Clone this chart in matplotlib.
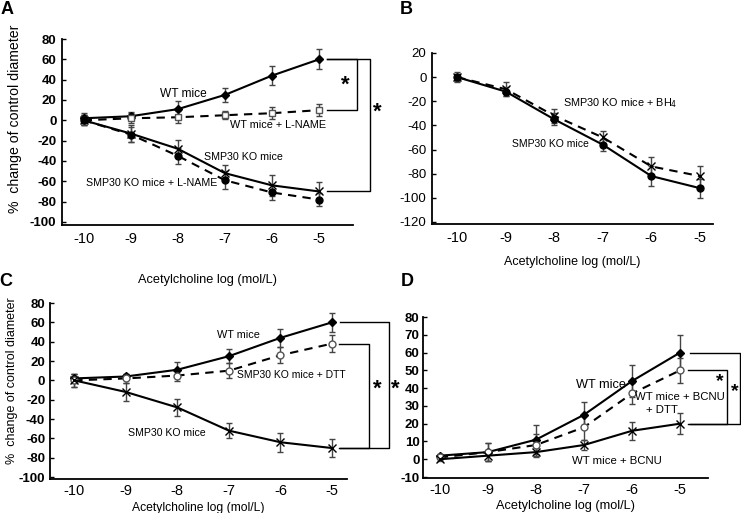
import matplotlib
matplotlib.use("Agg")
import matplotlib.pyplot as plt
import matplotlib.transforms as mtransforms
from matplotlib import font_manager
import numpy as np

plt.rcParams['font.family'] = ['Liberation Sans', 'DejaVu Sans']

_names = {f.name for f in font_manager.fontManager.ttflist}
NARROW = ['Liberation Sans Narrow', 'Liberation Sans'] if 'Liberation Sans Narrow' in _names else ['Liberation Sans']

# ---------------- data ----------------
x_log = [-10, -9, -8, -7, -6, -5]

# Panel A
a_wt = [2, 4, 11, 25, 44, 60]
a_wt_err = [5, 4, 8, 7, 9, 10]
a_wt_lname = [0, 2, 3, 5, 7, 10]
a_wt_lname_err = [5, 5, 6, 4, 6, 6]
a_ko = [0, -13, -28, -52, -64, -70]
a_ko_err = [5, 8, 9, 8, 10, 9]
a_ko_lname = [0, -14, -35, -59, -71, -78]
a_ko_lname_err = [5, 7, 8, 9, 7, 6]

# Panel B
b_ko = [0, -12, -35, -56, -82, -92]
b_ko_err = [3, 4, 5, 5, 8, 8]
b_ko_bh4 = [0, -10, -32, -50, -74, -82]
b_ko_bh4_err = [4, 6, 6, 5, 8, 8]

# Panel C
c_wt = [2, 4, 11, 25, 44, 60]
c_wt_err = [5, 3, 8, 7, 9, 10]
c_ko_dtt = [0, 2, 5, 10, 26, 38]
c_ko_dtt_err = [7, 5, 6, 8, 8, 9]
c_ko = [0, -12, -28, -52, -64, -70]
c_ko_err = [7, 9, 9, 8, 10, 9]

# Panel D
d_wt = [2, 4, 11, 25, 44, 60]
d_wt_err = [1, 5, 8, 7, 9, 10]
d_bcnu_dtt = [1, 4, 8, 18, 37, 50]
d_bcnu_dtt_err = [1, 5, 6, 7, 6, 7]
d_bcnu = [0, 2, 4, 8, 16, 20]
d_bcnu_err = [1, 3, 3, 3, 5, 6]

a_yticks = list(range(-100, 81, 20))
b_yticks = list(range(-120, 21, 20))
c_yticks = list(range(-100, 81, 20))
d_yticks = list(range(-10, 81, 10))

# ---------------- layout helpers ----------------
W, H = 741, 513
fig = plt.figure(figsize=(W / 100, H / 100), dpi=100)


def fx(px):
    return px / W


def fy(py):
    return 1 - py / H


def make_ax(left, right, top, bottom, xlim, ylim, yticks, ybold, xpad, ypad):
    ax = fig.add_axes([fx(left), fy(bottom), fx(right) - fx(left), (bottom - top) / H])
    ax.set_xlim(*xlim)
    ax.set_ylim(*ylim)
    for s in ['top', 'right']:
        ax.spines[s].set_visible(False)
    for s in ['left', 'bottom']:
        ax.spines[s].set_linewidth(1.3)
    ax.set_xticks(x_log)
    ax.set_xticklabels([str(v) for v in x_log], fontsize=10.5)
    ax.set_yticks(yticks)
    if ybold:
        ax.set_yticklabels([str(v) for v in yticks], fontsize=9.5,
                           fontweight='bold', family=NARROW)
    else:
        ax.set_yticklabels([str(v) for v in yticks], fontsize=9.5)
    ax.tick_params(axis='x', length=0, pad=xpad)
    ax.tick_params(axis='y', direction='in', length=3, width=1, pad=ypad)
    ax.patch.set_alpha(0)
    return ax


DASH = (0, (4, 3))


def series(ax, y, err, ls, marker, mfc, ms=4.5, mec='black'):
    ax.errorbar(x_log, y, yerr=err, color='black', ecolor='#444444',
                elinewidth=1.0, capsize=2.2, capthick=1.0, lw=1.5,
                linestyle=ls, marker=marker, mfc=mfc, mec=mec, ms=ms,
                mew=1.0, clip_on=False, zorder=3)


def bracket(ax, px_start, px_v, y1, y2, lw=1.0):
    tr = mtransforms.blended_transform_factory(fig.transFigure, ax.transData)
    ax.plot([fx(px_start), fx(px_v), fx(px_v), fx(px_start)], [y1, y1, y2, y2],
            color='black', lw=lw, transform=tr, clip_on=False)


def txt(px, py, s, ha='center', size=8, **kw):
    fig.text(fx(px), fy(py), s, ha=ha, va='center', fontsize=size, **kw)


# ---------------- Panel A ----------------
axA = make_ax(62, 353, 39, 225, (-10.46, -4.28), (-103, 80), a_yticks, True, 5, 4)
series(axA, a_wt, a_wt_err, '-', 'D', 'black', ms=4)
series(axA, a_wt_lname, a_wt_lname_err, DASH, 's', 'white', ms=5, mec='#555555')
series(axA, a_ko, a_ko_err, '-', 'x', 'black', ms=5.5)
series(axA, a_ko_lname, a_ko_lname_err, DASH, 'o', 'black', ms=5)
axA.set_xlabel('Acetylcholine log (mol/L)', fontsize=9.2, labelpad=20)
txt(15, 119, '%  change of control diameter', size=10.2, rotation=90)
txt(183, 94, 'WT mice', size=8.6)
txt(278, 125, 'WT mice + L-NAME', size=7.8)
txt(243, 157, 'SMP30 KO mice', size=7.7)
txt(152, 183, 'SMP30 KO mice + L-NAME', size=7.7)
bracket(axA, 327, 357, a_wt[-1], a_wt_lname[-1])
bracket(axA, 327, 370, a_wt[-1], a_ko[-1])
txt(345, 85, '*', size=16, fontweight='bold')
txt(377, 112, '*', size=16, fontweight='bold')
txt(7, 10, 'A', size=13, fontweight='bold')

# ---------------- Panel B ----------------
axB = make_ax(432, 713, 53, 224, (-10.52, -4.73), (-121.7, 20), b_yticks, False, 5, 4)
series(axB, b_ko, b_ko_err, '-', 'o', 'black', ms=5)
series(axB, b_ko_bh4, b_ko_bh4_err, DASH, 'x', 'black', ms=6)
axB.set_xlabel('Acetylcholine log (mol/L)', fontsize=9, labelpad=8)
txt(563, 103, 'SMP30 KO mice + BH$_4$', ha='left', size=7.8)
txt(550, 144, 'SMP30 KO mice', size=7.5)
txt(406, 9, 'B', size=13, fontweight='bold')

# ---------------- Panel C ----------------
axC = make_ax(50, 347, 303, 479, (-10.47, -4.71), (-102, 80), c_yticks, True, 3.5, 3.5)
series(axC, c_wt, c_wt_err, '-', 'D', 'black', ms=4)
series(axC, c_ko_dtt, c_ko_dtt_err, DASH, 'o', 'white', ms=5, mec='#555555')
series(axC, c_ko, c_ko_err, '-', 'x', 'black', ms=5.5)
axC.set_xlabel('Acetylcholine log (mol/L)', fontsize=8.7, labelpad=3)
txt(12, 381, '%  change of control diameter', size=9, rotation=90)
txt(238, 335, 'WT mice', size=7.8)
txt(291, 375, 'SMP30 KO mice + DTT', size=7.5)
txt(167, 433, 'SMP30 KO mice', size=7.6)
bracket(axC, 340, 389, c_wt[-1], c_ko[-1])
bracket(axC, 339, 369, c_ko_dtt[-1], c_ko[-1])
txt(377, 389, '*', size=16, fontweight='bold')
txt(395, 389, '*', size=16, fontweight='bold')
txt(6, 282, 'C', size=13, fontweight='bold')

# ---------------- Panel D ----------------
axD = make_ax(423, 708, 317, 478, (-10.35, -4.42), (-10.56, 80), d_yticks, True, 3.5, 2.5)
series(axD, d_wt, d_wt_err, '-', 'D', 'black', ms=4)
series(axD, d_bcnu_dtt, d_bcnu_dtt_err, DASH, 'o', 'white', ms=5, mec='#555555')
series(axD, d_bcnu, d_bcnu_err, '-', 'x', 'black', ms=5.5)
axD.set_xlabel('Acetylcholine log (mol/L)', fontsize=9.2, labelpad=2.5)
txt(601, 385, 'WT mice', size=9.2)
txt(680, 397, 'WT mice + BCNU', size=8.2)
txt(646, 410, '+ DTT', ha='left', size=8.2)
txt(617, 461, 'WT mice + BCNU', size=8.2)
bracket(axD, 690, 740, d_wt[-1], d_bcnu[-1])
bracket(axD, 688, 727, d_bcnu_dtt[-1], d_bcnu[-1])
txt(720, 382, '*', size=14, fontweight='bold')
txt(735, 392, '*', size=14, fontweight='bold')
txt(407, 282, 'D', size=13, fontweight='bold')

fig.savefig('out.png', dpi=100)
